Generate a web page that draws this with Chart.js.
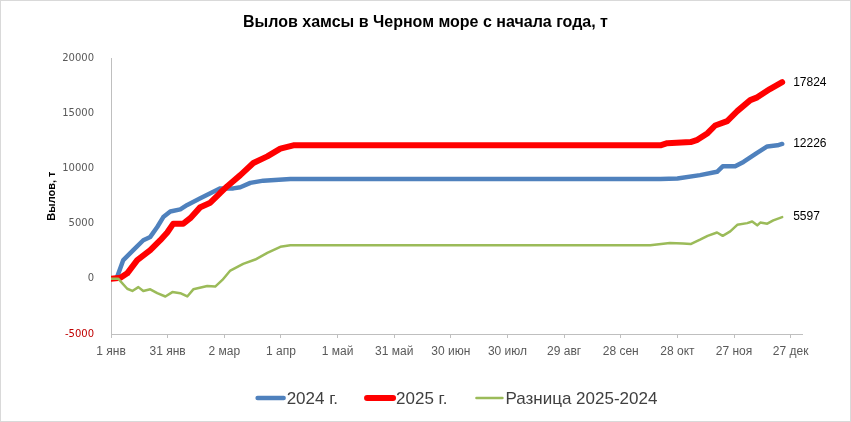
<!DOCTYPE html>
<html>
<head>
<meta charset="utf-8">
<script src="https://cdn.jsdelivr.net/npm/chart.js@4"></script>
<style>
  body { margin: 0; background: #fff; }
  .box { width: 851px; height: 422px; position: relative; }
</style>
</head>
<body>
<div class="box"><canvas id="catch"></canvas></div>
<script>
// x = day of year (0 = 1 янв)
const xTickLabels = ['1 янв', '31 янв', '2 мар', '1 апр', '1 май', '31 май', '30 июн',
  '30 июл', '29 авг', '28 сен', '28 окт', '27 ноя', '27 дек'];

const days2024 = [0, 3, 6.5, 11.8, 17.1, 20.8, 24.5, 27.7, 31.4, 36.7, 40.4, 47.3, 54.2, 57.9,
  64.8, 68.5, 73.8, 80.7, 95, 291, 300, 312, 321, 324, 330.6, 335, 342, 347.6, 353, 355.5];
const values2024 = [0, 50, 1700, 2600, 3500, 3800, 4700, 5600, 6100, 6300, 6700, 7300, 7900, 8200,
  8200, 8300, 8700, 8900, 9050, 9050, 9100, 9400, 9700, 10200, 10200, 10600, 11400, 12000, 12100, 12226];

const days2025 = [0, 5, 8.6, 13.9, 20.8, 26.1, 29.8, 33, 38.3, 42, 47.3, 52.6, 57.9, 61.6, 68.5,
  75.4, 82.8, 89.7, 96.6, 291, 294.6, 307, 310.6, 316, 320, 326.4, 331.7, 338.6, 342.3, 349, 355.5];
const values2025 = [0, 100, 500, 1700, 2600, 3500, 4200, 5000, 5000, 5500, 6500, 6900, 7800, 8400, 9400,
  10500, 11100, 11800, 12100, 12100, 12300, 12400, 12600, 13200, 13900, 14300, 15200, 16200, 16450, 17200, 17824];

const daysDiff = [0, 3.9, 8.6, 11.3, 14.5, 17.1, 20.8, 24.5, 28.8, 32.5, 36.7, 40.4, 43.6, 51, 55.2,
  59, 63.2, 70, 76.4, 82.8, 89.7, 95, 285.6, 296, 303, 307, 312, 316, 321, 324, 328, 331.7, 337,
  339.6, 342.3, 343.9, 347.6, 350.8, 355.5];
const valuesDiff = [0, 0, -900, -1100, -750, -1100, -950, -1300, -1600, -1200, -1300, -1600, -950, -650, -700,
  -100, 750, 1350, 1750, 2350, 2900, 3050, 3050, 3250, 3200, 3150, 3550, 3900, 4200, 3900, 4300, 4900, 5050,
  5200, 4850, 5100, 5000, 5300, 5597];

const points = (xs, ys) => xs.map((d, i) => ({ x: d, y: ys[i] }));

// frame + white background
const framePlugin = {
  id: 'frame',
  beforeDraw(chart) {
    const ctx = chart.ctx;
    ctx.save();
    ctx.fillStyle = '#fff';
    ctx.fillRect(0, 0, chart.width, chart.height);
    ctx.strokeStyle = '#d9d9d9';
    ctx.lineWidth = 1;
    ctx.strokeRect(0.5, 0.5, chart.width - 1, chart.height - 1);
    ctx.restore();
  }
};

// last value next to each line
const endLabels = {
  id: 'endLabels',
  afterDatasetsDraw(chart) {
    const ctx = chart.ctx;
    ctx.save();
    ctx.font = '12px "Liberation Sans", Arial, sans-serif';
    ctx.fillStyle = '#000';
    ctx.textBaseline = 'middle';
    chart.data.datasets.forEach((ds, i) => {
      const meta = chart.getDatasetMeta(i);
      const last = meta.data[meta.data.length - 1];
      ctx.fillText(String(ds.data[ds.data.length - 1].y), last.x + 11, last.y);
    });
    ctx.restore();
  }
};

// legend like Excel: line swatch right against the text
const lineLegend = {
  id: 'lineLegend',
  afterDraw(chart) {
    const ctx = chart.ctx;
    const sw = 30, gap = 1, spacing = 27;
    ctx.save();
    ctx.font = '17px "Liberation Sans", Arial, sans-serif';
    ctx.textBaseline = 'middle';
    const items = chart.data.datasets.map(ds => ({ ds, w: ctx.measureText(ds.label).width }));
    const total = items.reduce((s, it) => s + sw + gap + it.w, 0) + spacing * (items.length - 1);
    const area = chart.chartArea;
    let x = (area.left + area.right) / 2 - total / 2;
    const y = 398;
    items.forEach(it => {
      ctx.strokeStyle = it.ds.borderColor;
      ctx.lineWidth = it.ds.borderWidth;
      ctx.lineCap = 'round';
      ctx.beginPath();
      ctx.moveTo(x + 2, y);
      ctx.lineTo(x + sw - 2, y);
      ctx.stroke();
      ctx.fillStyle = '#404040';
      ctx.fillText(it.ds.label, x + sw + gap, y + 1);
      x += sw + gap + it.w + spacing;
    });
    ctx.restore();
  }
};

new Chart(document.getElementById('catch'), {
  type: 'line',
  data: {
    datasets: [
      {
        label: '2024 г.',
        data: points(days2024, values2024),
        borderColor: '#4f81bd',
        backgroundColor: '#4f81bd',
        borderWidth: 4.5,
        order: 2
      },
      {
        label: '2025 г.',
        data: points(days2025, values2025),
        borderColor: '#ff0000',
        backgroundColor: '#ff0000',
        borderWidth: 6,
        order: 1
      },
      {
        label: 'Разница 2025-2024',
        data: points(daysDiff, valuesDiff),
        borderColor: '#9bbb59',
        backgroundColor: '#9bbb59',
        borderWidth: 2.5,
        order: 0
      }
    ]
  },
  options: {
    responsive: true,
    maintainAspectRatio: false,
    animation: false,
    layout: { padding: 0 },
    elements: {
      point: { radius: 0 },
      line: { tension: 0, borderJoinStyle: 'round', borderCapStyle: 'round' }
    },
    plugins: {
      legend: { display: false },
      tooltip: { enabled: false },
      title: {
        display: true,
        text: 'Вылов хамсы в Черном море с начала года, т',
        color: '#000',
        font: { family: '"Liberation Sans", Arial, sans-serif', size: 16, weight: 'bold' },
        padding: { top: 13, bottom: 26 }
      }
    },
    scales: {
      x: {
        type: 'linear',
        min: 0,
        max: 366,
        afterFit: scale => { scale.height = 88; },
        ticks: {
          stepSize: 30,
          includeBounds: false,
          autoSkip: false,
          maxRotation: 0,
          padding: 6,
          color: '#595959',
          font: { family: '"Liberation Sans", Arial, sans-serif', size: 12 },
          callback: v => xTickLabels[v / 30]
        },
        grid: { drawOnChartArea: false, drawTicks: true, tickLength: 4, color: '#bfbfbf' },
        border: { color: '#bfbfbf' }
      },
      y: {
        min: -5000,
        max: 20000,
        afterFit: scale => { scale.width = 111; },
        ticks: {
          stepSize: 5000,
          padding: 17,
          color: c => (c.tick && c.tick.value < 0 ? '#c00000' : '#595959'),
          font: { family: '"DejaVu Sans", Verdana, sans-serif', size: 10 },
          callback: v => String(v)
        },
        grid: { display: false, drawTicks: false },
        border: { color: '#bfbfbf' },
        title: {
          display: true,
          text: 'Вылов, т',
          color: '#000',
          font: { family: '"Liberation Sans", Arial, sans-serif', size: 11, weight: 'bold' },
          padding: { top: 45, bottom: 0 }
        }
      },
      // empty strip on the right for the end labels
      side: {
        type: 'linear',
        position: 'right',
        display: true,
        afterFit: scale => { scale.width = 49; },
        ticks: { display: false },
        grid: { display: false, drawTicks: false },
        border: { display: false }
      }
    }
  },
  plugins: [framePlugin, endLabels, lineLegend]
});
</script>
</body>
</html>
